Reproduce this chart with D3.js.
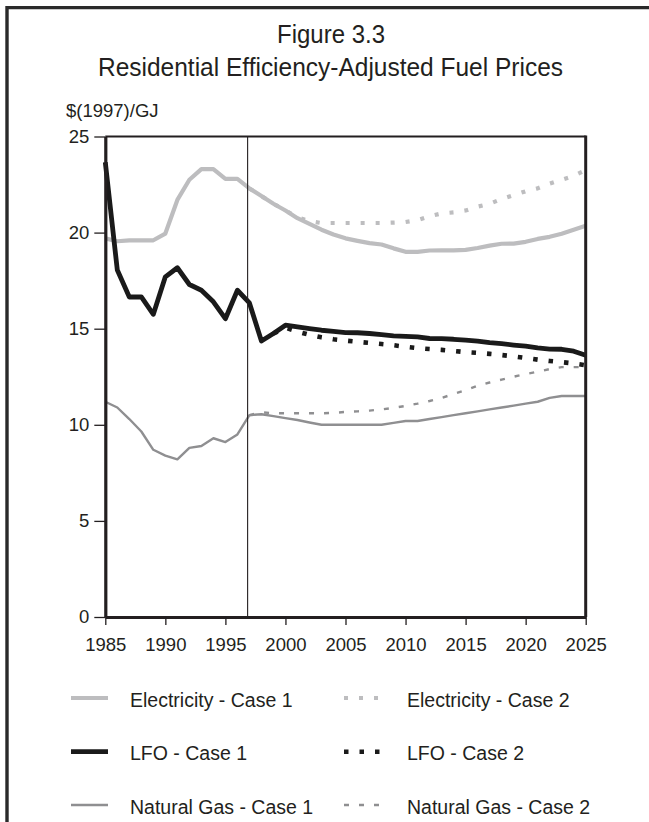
<!DOCTYPE html>
<html><head><meta charset="utf-8">
<script src="https://cdn.jsdelivr.net/npm/d3@7"></script>
<style>
body{margin:0;background:#fff}
svg{display:block}
text{font-family:"Liberation Sans",Arial,sans-serif;fill:#231f20}
</style>
</head><body>
<svg id="chart" width="649" height="822"></svg>
<script>
// ---------- data ----------
const historyYears = [1985,1986,1987,1988,1989,1990,1991,1992,1993,1994,1995,1996];
const projectionYears = [1997,1998,1999,2000,2001,2002,2003,2004,2005,2006,2007,2008,2009,2010,2011,2012,2013,2014,2015,2016,2017,2018,2019,2020,2021,2022,2023,2024,2025];
const allYears = historyYears.concat(projectionYears);

const electricityCase1 = [19.7,19.55,19.6,19.6,19.6,19.95,21.7,22.75,23.3,23.3,22.8,22.8,
  22.3,21.9,21.5,21.15,20.75,20.45,20.15,19.9,19.7,19.57,19.45,19.38,19.18,19.0,19.0,19.07,19.08,19.08,19.1,19.2,19.32,19.42,19.43,19.52,19.67,19.78,19.94,20.15,20.35];
const electricityCase2 = [22.3,21.9,21.5,21.15,20.8,20.6,20.5,20.5,20.5,20.5,20.5,20.5,20.52,20.55,20.65,20.85,21.0,21.05,21.15,21.35,21.5,21.75,21.95,22.15,22.3,22.55,22.75,22.95,23.25];
const lfoCase1 = [23.66,18.05,16.65,16.65,15.75,17.7,18.17,17.3,17.0,16.4,15.52,17.0,
  16.34,14.36,14.75,15.18,15.09,15.0,14.92,14.86,14.8,14.79,14.75,14.69,14.63,14.6,14.57,14.49,14.48,14.45,14.4,14.35,14.27,14.22,14.15,14.09,14.0,13.94,13.93,13.83,13.62];
const lfoCase2Years = projectionYears.slice(2);
const lfoCase2 = [14.75,15.05,14.85,14.68,14.55,14.45,14.38,14.32,14.26,14.2,14.14,14.06,13.99,13.94,13.9,13.84,13.78,13.74,13.69,13.63,13.56,13.48,13.39,13.32,13.26,13.19,13.1];
const gasCase1 = [11.2,10.9,10.3,9.65,8.7,8.4,8.2,8.8,8.9,9.3,9.1,9.5,
  10.5,10.55,10.45,10.35,10.25,10.12,10.0,10.0,10.0,10.0,10.0,10.0,10.1,10.2,10.2,10.3,10.4,10.5,10.6,10.7,10.8,10.9,11.0,11.1,11.2,11.4,11.5,11.5,11.5];
const gasCase2 = [10.5,10.65,10.6,10.6,10.6,10.6,10.6,10.62,10.67,10.7,10.74,10.8,10.88,10.98,11.1,11.24,11.4,11.6,11.8,12.03,12.2,12.35,12.5,12.64,12.76,12.9,13.0,13.0,13.0];

const yTicks = [0,5,10,15,20,25];
const xTicks = [1985,1990,1995,2000,2005,2010,2015,2020,2025];
const dividerYear = 1996.85;

const titleLines = ["Figure 3.3","Residential Efficiency-Adjusted Fuel Prices"];
const unitLabel = "$(1997)/GJ";

// ---------- series styling ----------
const series = [
  {name:"Electricity - Case 2", years:projectionYears, values:electricityCase2, color:"#bdbdbf", width:4.2, dash:"4,11", col:1, row:0},
  {name:"Electricity - Case 1", years:allYears, values:electricityCase1, color:"#bdbdbf", width:4.2, dash:null, col:0, row:0},
  {name:"Natural Gas - Case 2", years:projectionYears, values:gasCase2, color:"#8f8f91", width:2.4, dash:"5,10", col:1, row:2},
  {name:"Natural Gas - Case 1", years:allYears, values:gasCase1, color:"#8f8f91", width:2.4, dash:null, col:0, row:2},
  {name:"LFO - Case 2", years:lfoCase2Years, values:lfoCase2, color:"#1a1a1a", width:4.6, dash:"4.5,11", col:1, row:1},
  {name:"LFO - Case 1", years:allYears, values:lfoCase1, color:"#1a1a1a", width:4.8, dash:null, col:0, row:1}
];

// ---------- drawing ----------
const svg = d3.select("#chart");
const x = d3.scaleLinear().domain([1985,2025]).range([105.3,585.7]);
const y = d3.scaleLinear().domain([0,25]).range([617,136.5]);
const ink = "#231f20";

// outer frame
svg.append("path").attr("d","M7,840V7.6H660").attr("fill","none").attr("stroke","#2a2a2a").attr("stroke-width",3.4);

// titles
svg.append("text").attr("x",331).attr("y",43).attr("text-anchor","middle")
  .attr("font-size",25).attr("textLength",108).attr("lengthAdjust","spacingAndGlyphs").text(titleLines[0]);
svg.append("text").attr("x",330.5).attr("y",76).attr("text-anchor","middle")
  .attr("font-size",25).attr("textLength",465).attr("lengthAdjust","spacingAndGlyphs").text(titleLines[1]);
svg.append("text").attr("x",66).attr("y",117).attr("font-size",18.5).text(unitLabel);

// lines
const line = d3.line().x(d=>x(d[0])).y(d=>y(d[1]));
const gLines = svg.append("g");

// divider
svg.append("line").attr("x1",x(dividerYear)).attr("x2",x(dividerYear)).attr("y1",y(25)).attr("y2",y(0))
  .attr("stroke",ink).attr("stroke-width",1.1);

series.forEach(s=>{
  const pts = s.years.map((yr,i)=>[yr,s.values[i]]);
  gLines.append("path").attr("d",line(pts)).attr("fill","none")
    .attr("stroke",s.color).attr("stroke-width",s.width)
    .attr("stroke-linejoin","round")
    .attr("stroke-dasharray",s.dash);
});

// plot box top & right
svg.append("line").attr("x1",x(1985)).attr("x2",x(2025)).attr("y1",y(25)).attr("y2",y(25))
  .attr("stroke",ink).attr("stroke-width",2.2);
svg.append("line").attr("x1",x(2025)).attr("x2",x(2025)).attr("y1",y(25)-1).attr("y2",y(0))
  .attr("stroke",ink).attr("stroke-width",3);

// axes
const yAxis = svg.append("g").attr("transform",`translate(${x(1985)},0)`)
  .call(d3.axisLeft(y).tickValues(yTicks).tickSize(11).tickSizeOuter(0).tickPadding(5));
yAxis.select(".domain").attr("stroke",ink).attr("stroke-width",3.2);
yAxis.selectAll(".tick line").attr("stroke",ink).attr("stroke-width",1.3);
yAxis.selectAll(".tick text").attr("font-size",18.5).attr("fill",ink).style("font-family",'"Liberation Sans",Arial,sans-serif');

const xAxis = svg.append("g").attr("transform",`translate(0,${y(0)})`)
  .call(d3.axisBottom(x).tickValues(xTicks).tickFormat(d3.format("d")).tickSize(8).tickSizeOuter(0).tickPadding(13));
xAxis.select(".domain").attr("stroke",ink).attr("stroke-width",3.2);
xAxis.selectAll(".tick line").attr("stroke",ink).attr("stroke-width",1.3);
xAxis.selectAll(".tick text").attr("font-size",18.5).attr("fill",ink).style("font-family",'"Liberation Sans",Arial,sans-serif');

// legend
const legendRowsY = [698,751.7,805];
const legendColX = [71,344];
const legendTextX = [130,407];
const legend = svg.append("g");
series.forEach(s=>{
  const ly = legendRowsY[s.row];
  legend.append("line").attr("x1",legendColX[s.col]).attr("x2",legendColX[s.col]+37)
    .attr("y1",ly).attr("y2",ly).attr("stroke",s.color).attr("stroke-width",s.width)
    .attr("stroke-dasharray",s.dash);
  legend.append("text").attr("x",legendTextX[s.col]).attr("y",ly+8.5).attr("font-size",19.5).text(s.name);
});
</script>
</body></html>
